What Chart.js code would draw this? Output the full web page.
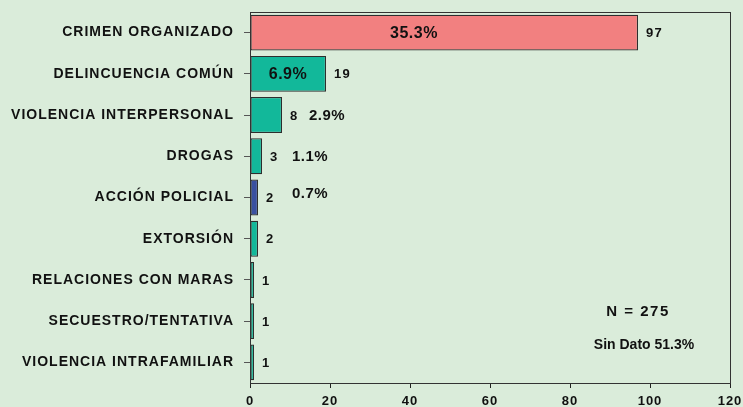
<!DOCTYPE html>
<html>
<head>
<meta charset="utf-8">
<script src="https://cdn.jsdelivr.net/npm/chart.js@4.4.0/dist/chart.umd.min.js"></script>
<style>
  html, body { margin: 0; padding: 0; background: #daecda; }
  #wrap { width: 743px; height: 407px; }
</style>
</head>
<body>
<div id="wrap"><canvas id="grafico"></canvas></div>
<script>
// Datos del gráfico
const categorias = [
    'CRIMEN ORGANIZADO',
    'DELINCUENCIA COMÚN',
    'VIOLENCIA INTERPERSONAL',
    'DROGAS',
    'ACCIÓN POLICIAL',
    'EXTORSIÓN',
    'RELACIONES CON MARAS',
    'SECUESTRO/TENTATIVA',
    'VIOLENCIA INTRAFAMILIAR'
];
const casos = [97, 19, 8, 3, 2, 2, 1, 1, 1];
const porcentajes = [35.3, 6.9, 2.9, 1.1, 0.7];
const totalCasos = 275;
const sinDato = 51.3;

// Colores de cada barra
const colorBarra = categorias.map((c, i) => {
    if (i === 0) return '#f28080';
    if (c === 'ACCIÓN POLICIAL') return '#3a50a0';
    return '#12b89a';
});

const fuente = '"Liberation Sans", Arial, sans-serif';
const negro = '#111';

// Posición de cada porcentaje (en unidades del eje x) y tamaño de letra
const estiloPct = [
    { x: 41, size: 16, align: 'center', dy: 0 },
    { x: 9.5, size: 16, align: 'center', dy: 0 },
    { x: 14.75, size: 15, align: 'left', dy: 0 },
    { x: 10.5, size: 15, align: 'left', dy: 0 },
    { x: 10.5, size: 15, align: 'left', dy: -5 }
];

// Fondo y espaciado de letras
const fondoPlugin = {
    id: 'fondo',
    beforeDraw(chart) {
        const ctx = chart.ctx;
        ctx.save();
        ctx.fillStyle = '#daecda';
        ctx.fillRect(0, 0, chart.width, chart.height);
        ctx.restore();
        ctx.letterSpacing = '1px';
    }
};

// Etiquetas de valores, porcentajes y notas
const etiquetasPlugin = {
    id: 'etiquetas',
    afterDatasetsDraw(chart) {
        const ctx = chart.ctx;
        const xs = chart.scales.x;
        const ys = chart.scales.y;
        const area = chart.chartArea;

        ctx.save();
        ctx.fillStyle = negro;
        ctx.textBaseline = 'middle';
        ctx.letterSpacing = '1.3px';

        // cantidad al final de cada barra
        ctx.font = 'bold 13px ' + fuente;
        ctx.textAlign = 'left';
        casos.forEach((v, i) => {
            ctx.fillText(String(v), xs.getPixelForValue(v) + 8, ys.getPixelForValue(i) + 1);
        });

        // porcentajes
        ctx.letterSpacing = '0.5px';
        porcentajes.forEach((p, i) => {
            const e = estiloPct[i];
            ctx.font = 'bold ' + e.size + 'px ' + fuente;
            ctx.textAlign = e.align;
            ctx.fillText(p.toFixed(1) + '%', xs.getPixelForValue(e.x), ys.getPixelForValue(i) + 1 + e.dy);
        });

        // notas
        ctx.textAlign = 'center';
        ctx.letterSpacing = '1.5px';
        ctx.font = 'bold 15px ' + fuente;
        ctx.fillText('N = ' + totalCasos, xs.getPixelForValue(97), ys.getPixelForValue(6.78));
        ctx.letterSpacing = '0px';
        ctx.font = 'bold 14px ' + fuente;
        ctx.fillText('Sin Dato ' + sinDato.toFixed(1) + '%', xs.getPixelForValue(98.5), ys.getPixelForValue(7.58));
        ctx.restore();

        // marco del área
        ctx.save();
        ctx.strokeStyle = '#333';
        ctx.lineWidth = 1;
        ctx.strokeRect(area.left + 0.5, area.top + 0.5, area.right - area.left, area.bottom - area.top);
        ctx.restore();
    }
};

const ctx = document.getElementById('grafico').getContext('2d');
new Chart(ctx, {
    type: 'bar',
    data: {
        labels: categorias,
        datasets: [{
            data: casos,
            backgroundColor: colorBarra,
            borderColor: '#2e2e2e',
            borderWidth: 1.2,
            borderSkipped: false,
            barPercentage: 0.87,
            categoryPercentage: 1
        }]
    },
    options: {
        indexAxis: 'y',
        responsive: true,
        maintainAspectRatio: false,
        animation: false,
        layout: { padding: { top: 12, right: 13, left: 0, bottom: 0 } },
        plugins: {
            legend: { display: false },
            tooltip: { enabled: false }
        },
        scales: {
            x: {
                min: 0,
                max: 120,
                afterFit: s => { s.height = 24; s.paddingLeft = 0; s.paddingRight = 0; },
                ticks: {
                    stepSize: 20,
                    color: negro,
                    padding: 6,
                    font: { family: fuente, size: 13, weight: 'bold' },
                    maxRotation: 0
                },
                grid: { drawOnChartArea: false, tickLength: 5, color: '#222' },
                border: { color: '#111', width: 1 }
            },
            y: {
                afterFit: s => { s.width = 250; s.paddingTop = 0; s.paddingBottom = 0; },
                ticks: {
                    color: negro,
                    padding: 10,
                    font: { family: fuente, size: 14, weight: 'bold' }
                },
                grid: { drawOnChartArea: false, offset: false, tickLength: 6, color: '#555' },
                border: { color: '#111', width: 1 }
            }
        }
    },
    plugins: [fondoPlugin, etiquetasPlugin]
});
</script>
</body>
</html>
